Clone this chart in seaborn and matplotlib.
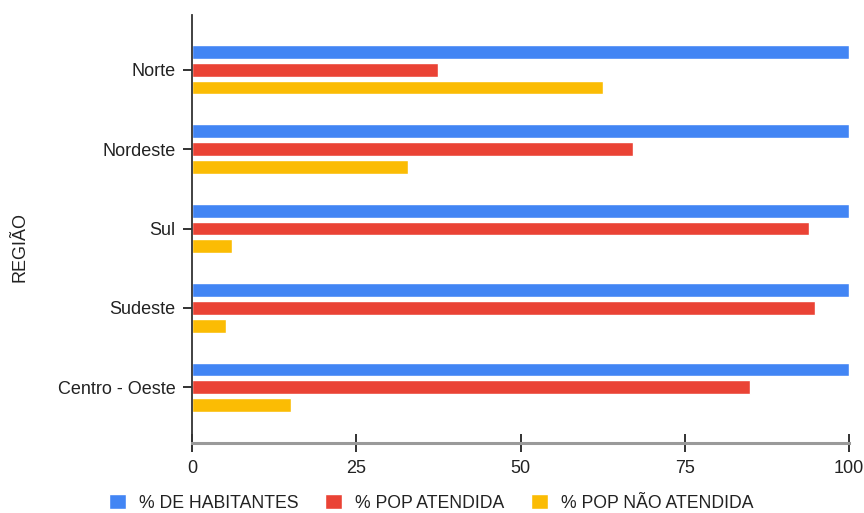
import matplotlib
matplotlib.use("Agg")
import matplotlib.pyplot as plt
import seaborn as sns
import pandas as pd

# Regions and their percentages
regioes = ["Norte", "Nordeste", "Sul", "Sudeste", "Centro - Oeste"]
series = ["% DE HABITANTES", "% POP ATENDIDA", "% POP NÃO ATENDIDA"]
habitantes = [100, 100, 100, 100, 100]
pop_atendida = [37.4, 67.1, 93.9, 94.9, 85.0]
pop_nao_atendida = [62.6, 32.9, 6.1, 5.1, 15.0]
x_ticks = [0, 25, 50, 75, 100]
cores = ["#4285F4", "#EA4335", "#FBBC04"]

sns.set_theme(style="white")
plt.rcParams["font.family"] = ["Liberation Sans", "DejaVu Sans"]

df = pd.DataFrame({
    "REGIÃO": regioes * 3,
    "serie": [series[0]] * 5 + [series[1]] * 5 + [series[2]] * 5,
    "valor": habitantes + pop_atendida + pop_nao_atendida,
})

fig = plt.figure(figsize=(8.64, 5.13), dpi=100)
ax = fig.add_axes([192 / 864, 1 - 443 / 513, 657 / 864, 428 / 513])

sns.barplot(data=df, x="valor", y="REGIÃO", hue="serie", hue_order=series,
            order=regioes, orient="h", palette=cores, saturation=1,
            width=0.675, gap=0.22, errorbar=None, ax=ax)

handles, labels = ax.get_legend_handles_labels()
if ax.get_legend() is not None:
    ax.get_legend().remove()

ax.set_xlim(0, 100)
ax.set_ylim(4.7, -0.6875)
ax.set_xticks(x_ticks)
ax.set_xticklabels([str(t) for t in x_ticks])
ax.set_xlabel("")

txt = "#222222"
fs_tick = 13.0
fs_leg = 12.7
ax.tick_params(axis="y", direction="inout", length=13, width=1.3, color="#222222",
               pad=5.5, labelsize=fs_tick, labelcolor=txt, left=True)
ax.tick_params(axis="x", direction="inout", length=13, width=1.3, color="#222222",
               pad=6, labelsize=fs_tick, labelcolor=txt, bottom=True)

for s in ("top", "right"):
    ax.spines[s].set_visible(False)
ax.spines["left"].set_color("#333333")
ax.spines["left"].set_linewidth(1.3)
ax.spines["bottom"].set_color("#9a9a9a")
ax.spines["bottom"].set_linewidth(2.2)

ax.set_ylabel("REGIÃO", fontsize=fs_tick, color=txt)
ax.yaxis.label.set(va="center", ha="center", rotation_mode="anchor")
ax.yaxis.set_label_coords(-0.262, 0.458)

fig.legend(handles, labels, loc="center", bbox_to_anchor=(0.499, 0.02),
           ncol=3, frameon=False, fontsize=fs_leg, labelcolor=txt,
           handlelength=0.97, handleheight=0.97, handletextpad=0.74,
           columnspacing=1.5, borderpad=0.1)

fig.savefig("out.png", dpi=100)
